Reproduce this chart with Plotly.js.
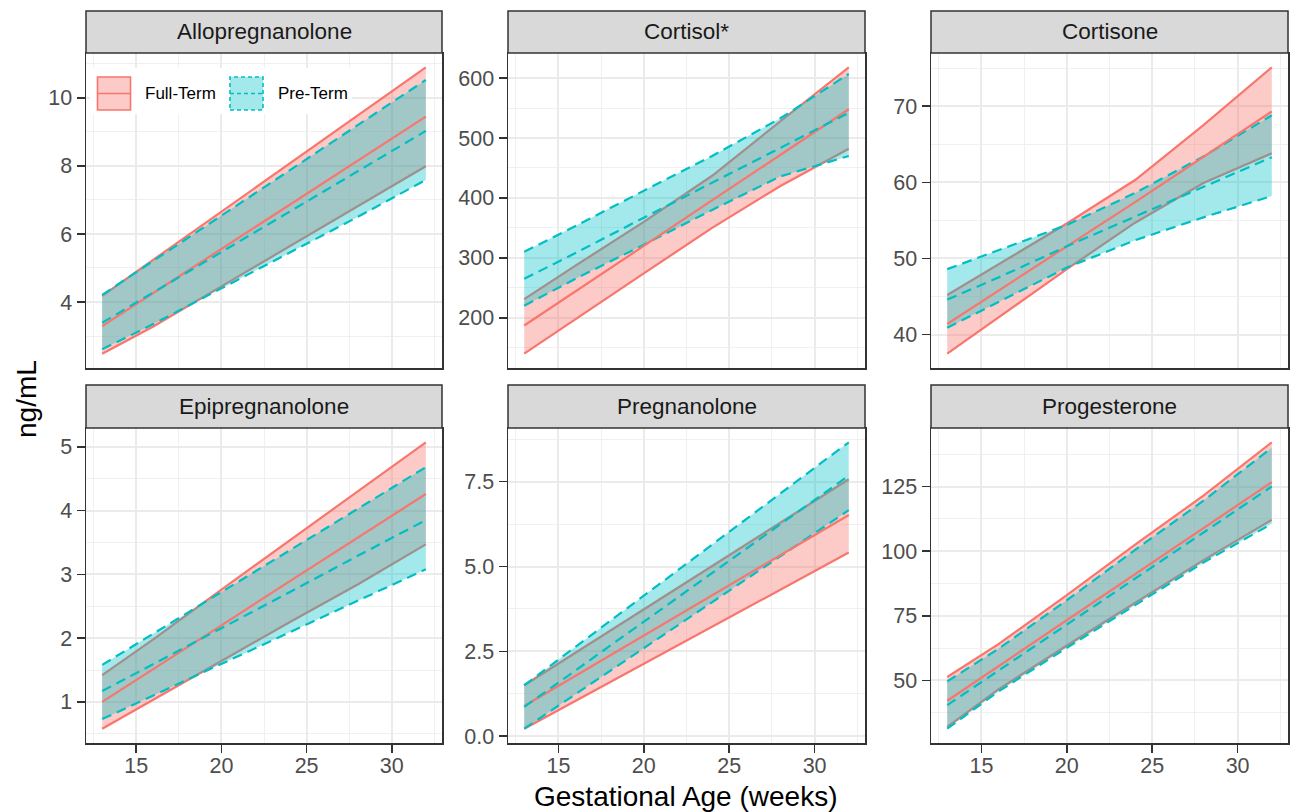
<!DOCTYPE html>
<html>
<head>
<meta charset="utf-8">
<script src="https://cdn.plot.ly/plotly-3.0.1.min.js"></script>
<style>html,body{margin:0;padding:0;background:#fff;}#chart{width:1290px;height:812px;}</style>
</head>
<body>
<div id="chart"></div>
<script>
// ---------------- DATA ----------------
const weeks = [13, 16, 20, 24, 28, 32];
const analytes = ["Allopregnanolone", "Cortisol*", "Cortisone", "Epipregnanolone", "Pregnanolone", "Progesterone"];
const groups = ["Full-Term", "Pre-Term"];

// Allopregnanolone
const alloFTlow  = [2.48, 3.28, 4.46, 5.63, 6.81, 7.99];
const alloFTmean = [3.29, 4.26, 5.56, 6.85, 8.15, 9.45];
const alloFThigh = [4.18, 5.24, 6.66, 8.07, 9.49, 10.90];
const alloPTlow  = [2.61, 3.35, 4.40, 5.45, 6.50, 7.59];
const alloPTmean = [3.39, 4.28, 5.47, 6.66, 7.85, 9.03];
const alloPThigh = [4.21, 5.21, 6.54, 7.87, 9.20, 10.53];

// Cortisol*
const cortFTlow  = [140, 198, 274, 350, 420, 482];
const cortFTmean = [187, 244, 320, 396, 472, 548];
const cortFThigh = [231, 287, 360, 437, 528, 618];
const cortPTlow  = [220, 265, 322, 380, 436, 470];
const cortPTmean = [265, 308, 367, 425, 484, 542];
const cortPThigh = [310, 353, 412, 470, 533, 607];

// Cortisone
const ctsnFTlow  = [37.5, 42.3, 48.6, 54.7, 59.9, 63.8];
const ctsnFTmean = [41.4, 45.8, 51.6, 57.4, 63.3, 69.3];
const ctsnFThigh = [45.2, 49.2, 54.6, 60.3, 67.5, 75.1];
const ctsnPTlow  = [40.9, 44.3, 48.8, 52.4, 55.4, 58.2];
const ctsnPTmean = [44.6, 47.5, 51.6, 55.5, 59.4, 63.3];
const ctsnPThigh = [48.6, 51.1, 54.4, 58.6, 63.4, 68.8];

// Epipregnanolone
const epiFTlow  = [0.58, 1.04, 1.64, 2.25, 2.84, 3.47];
const epiFTmean = [1.00, 1.51, 2.20, 2.89, 3.57, 4.26];
const epiFThigh = [1.42, 1.98, 2.76, 3.53, 4.30, 5.07];
const epiPTlow  = [0.73, 1.10, 1.60, 2.09, 2.59, 3.08];
const epiPTmean = [1.17, 1.59, 2.16, 2.72, 3.29, 3.85];
const epiPThigh = [1.58, 2.07, 2.72, 3.37, 4.03, 4.68];

// Pregnanolone
const pregFTlow  = [0.22, 1.04, 2.13, 3.23, 4.32, 5.41];
const pregFTmean = [0.89, 1.78, 2.96, 4.15, 5.33, 6.52];
const pregFThigh = [1.50, 2.46, 3.74, 5.01, 6.29, 7.57];
const pregPTlow  = [0.22, 1.24, 2.59, 3.95, 5.30, 6.66];
const pregPTmean = [0.86, 1.94, 3.37, 4.81, 6.24, 7.68];
const pregPThigh = [1.50, 2.63, 4.14, 5.65, 7.15, 8.66];

// Progesterone
const progFTlow  = [32.0, 46.5, 63.5, 80.0, 96.5, 112.1];
const progFTmean = [42.1, 55.5, 73.3, 91.1, 108.9, 126.7];
const progFThigh = [51.3, 64.0, 83.0, 102.5, 121.5, 142.1];
const progPTlow  = [31.3, 45.7, 62.6, 79.0, 95.6, 110.6];
const progPTmean = [40.4, 53.8, 71.6, 89.4, 107.2, 125.0];
const progPThigh = [49.6, 62.2, 81.0, 100.5, 119.5, 140.0];

// y-axis tick steps (major) per panel
const yTickStep = [2, 100, 10, 1, 2.5, 25];
const yTickFormat = ["", "", "", "", ".1f", ""];

// ---------------- BUILD ----------------
const panelData = [
  [alloFTlow, alloFTmean, alloFThigh, alloPTlow, alloPTmean, alloPThigh],
  [cortFTlow, cortFTmean, cortFThigh, cortPTlow, cortPTmean, cortPThigh],
  [ctsnFTlow, ctsnFTmean, ctsnFThigh, ctsnPTlow, ctsnPTmean, ctsnPThigh],
  [epiFTlow, epiFTmean, epiFThigh, epiPTlow, epiPTmean, epiPThigh],
  [pregFTlow, pregFTmean, pregFThigh, pregPTlow, pregPTmean, pregPThigh],
  [progFTlow, progFTmean, progFThigh, progPTlow, progPTmean, progPThigh]
];

const W = 1290, H = 812;
const RED = "#F8766D", TEAL = "#00BFC4";
const RED_FILL = "rgba(248,118,109,0.38)", TEAL_FILL = "rgba(0,191,196,0.36)";
const FONT = "Liberation Sans, Arial, Helvetica, sans-serif";
const DASH = "10px,6px";
const LW = 2.2;

// panel pixel boxes
const colX = [[86, 442], [508, 865], [931, 1288]];
const rowY = [[53, 368], [428, 743]];
const stripY = [[11, 53], [385, 428]];
const px = v => v / W;
const py = v => 1 - v / H;

const traces = [];
const layout = {
  width: W, height: H,
  margin: {l: 0, r: 0, t: 0, b: 0},
  paper_bgcolor: "#ffffff", plot_bgcolor: "#ffffff",
  showlegend: false,
  font: {family: FONT, color: "#000"},
  shapes: [], annotations: []
};

const xMin = Math.min(...weeks), xMax = Math.max(...weeks);
const xPad = 0.05 * (xMax - xMin);

panelData.forEach((d, i) => {
  const s = i === 0 ? "" : String(i + 1);
  const xa = "x" + s, ya = "y" + s;
  const [ftL, ftM, ftH, ptL, ptM, ptH] = d;
  const base = {x: weeks, xaxis: xa, yaxis: ya, mode: "lines", hoverinfo: "skip"};
  traces.push(Object.assign({}, base, {y: ftL, name: groups[0], line: {color: RED, width: LW}}));
  traces.push(Object.assign({}, base, {y: ftH, name: groups[0], fill: "tonexty", fillcolor: RED_FILL, line: {color: RED, width: LW}}));
  traces.push(Object.assign({}, base, {y: ptL, name: groups[1], line: {color: TEAL, width: LW, dash: DASH}}));
  traces.push(Object.assign({}, base, {y: ptH, name: groups[1], fill: "tonexty", fillcolor: TEAL_FILL, line: {color: TEAL, width: LW, dash: DASH}}));
  traces.push(Object.assign({}, base, {y: ftM, name: groups[0], line: {color: RED, width: LW}}));
  traces.push(Object.assign({}, base, {y: ptM, name: groups[1], line: {color: TEAL, width: LW, dash: DASH}}));

  const all = [].concat(ftL, ftM, ftH, ptL, ptM, ptH);
  const lo = Math.min(...all), hi = Math.max(...all);
  const pad = 0.05 * (hi - lo);
  const row = Math.floor(i / 3), col = i % 3;
  const bottom = row === 1;

  layout["xaxis" + s] = {
    domain: [px(colX[col][0]), px(colX[col][1])],
    anchor: ya,
    range: [xMin - xPad, xMax + xPad],
    tick0: 0, dtick: 5,
    showgrid: true, gridcolor: "#EBEBEB", gridwidth: 2,
    minor: {tick0: 0, dtick: 2.5, showgrid: true, gridcolor: "#F0F0F0", gridwidth: 1},
    zeroline: false,
    showline: true, mirror: true, linecolor: "#333333", linewidth: 1.5,
    ticks: bottom ? "outside" : "", ticklen: 8, tickwidth: 1.6, tickcolor: "#333333",
    ticklabelstandoff: -5,
    showticklabels: bottom,
    tickfont: {family: FONT, size: 21.5, color: "#4D4D4D"},
    fixedrange: true
  };
  layout["yaxis" + s] = {
    domain: [py(rowY[row][1]), py(rowY[row][0])],
    anchor: xa,
    range: [lo - pad, hi + pad],
    tick0: 0, dtick: yTickStep[i],
    tickformat: yTickFormat[i],
    showgrid: true, gridcolor: "#EBEBEB", gridwidth: 2,
    minor: {tick0: 0, dtick: yTickStep[i] / 2, showgrid: true, gridcolor: "#F0F0F0", gridwidth: 1},
    zeroline: false,
    showline: true, mirror: true, linecolor: "#333333", linewidth: 1.5,
    ticks: "outside", ticklen: 8, tickwidth: 1.6, tickcolor: "#333333",
    tickfont: {family: FONT, size: 21.5, color: "#4D4D4D"},
    fixedrange: true
  };

  // strip
  layout.shapes.push({
    type: "rect", xref: "paper", yref: "paper", layer: "above",
    x0: px(colX[col][0]), x1: px(colX[col][1]),
    y0: py(stripY[row][1]), y1: py(stripY[row][0]),
    fillcolor: "#D9D9D9", line: {color: "#333333", width: 1.5}
  });
  layout.annotations.push({
    xref: "paper", yref: "paper", showarrow: false,
    x: px((colX[col][0] + colX[col][1]) / 2),
    y: py((stripY[row][0] + stripY[row][1]) / 2),
    xanchor: "center", yanchor: "middle",
    text: analytes[i],
    font: {family: FONT, size: 22.5, color: "#1A1A1A"}
  });
});

// axis titles
layout.annotations.push({
  xref: "paper", yref: "paper", showarrow: false,
  x: px(686), y: py(796), xanchor: "center", yanchor: "middle",
  text: "Gestational Age (weeks)", font: {family: FONT, size: 28, color: "#000"}
});
layout.annotations.push({
  xref: "paper", yref: "paper", showarrow: false, textangle: -90,
  x: px(26), y: py(399), xanchor: "center", yanchor: "middle",
  text: "ng/mL", font: {family: FONT, size: 28, color: "#000"}
});

// legend (inside first panel)
layout.shapes.push({type: "rect", xref: "paper", yref: "paper", layer: "above",
  x0: px(90), x1: px(352), y0: py(114), y1: py(68), fillcolor: "#ffffff", line: {width: 0}});
layout.shapes.push({type: "rect", xref: "paper", yref: "paper", layer: "above",
  x0: px(97.5), x1: px(130.5), y0: py(110), y1: py(77), fillcolor: RED_FILL, line: {color: RED, width: 1.6}});
layout.shapes.push({type: "line", xref: "paper", yref: "paper", layer: "above",
  x0: px(97.5), x1: px(130.5), y0: py(93.5), y1: py(93.5), line: {color: RED, width: 1.6}});
layout.shapes.push({type: "rect", xref: "paper", yref: "paper", layer: "above",
  x0: px(230), x1: px(263), y0: py(110), y1: py(77), fillcolor: TEAL_FILL, line: {color: TEAL, width: 1.6, dash: "4px,3px"}});
layout.shapes.push({type: "line", xref: "paper", yref: "paper", layer: "above",
  x0: px(230), x1: px(263), y0: py(93.5), y1: py(93.5), line: {color: TEAL, width: 1.6, dash: "4px,3px"}});
layout.annotations.push({xref: "paper", yref: "paper", showarrow: false,
  x: px(143), y: py(93.5), xanchor: "left", yanchor: "middle",
  text: groups[0], font: {family: FONT, size: 17, color: "#000"}});
layout.annotations.push({xref: "paper", yref: "paper", showarrow: false,
  x: px(276), y: py(93.5), xanchor: "left", yanchor: "middle",
  text: groups[1], font: {family: FONT, size: 17, color: "#000"}});

Plotly.newPlot("chart", traces, layout, {staticPlot: true, displayModeBar: false});
</script>
</body>
</html>
